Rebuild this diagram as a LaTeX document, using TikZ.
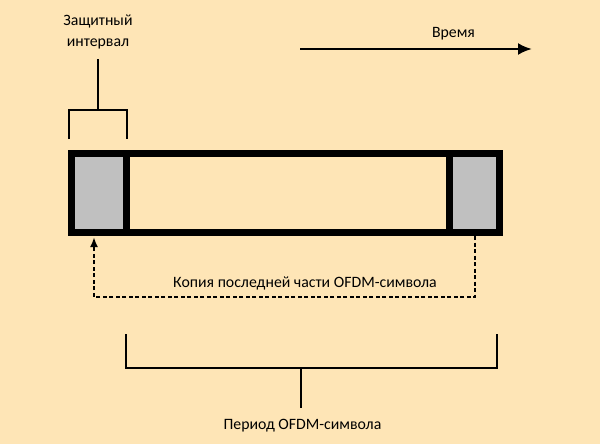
\documentclass[tikz,border=0pt]{standalone}
\usepackage{fontspec}
\setmainfont{Carlito}
\usetikzlibrary{arrows.meta,positioning}
\definecolor{paper}{RGB}{254,229,182}
\definecolor{guardgray}{RGB}{192,192,192}

\begin{document}
\begin{tikzpicture}[
		x=1pt, y=-1pt,
		>=Latex,
		font=\fontsize{15.8}{21}\selectfont,
		frame/.style={
			rectangle,
			draw=black,
			line width=7pt,
			minimum height=79pt,
			inner sep=0pt,
			fill=paper
		},
		guard/.style={
			frame,
			fill=guardgray
		},
		brace/.style={
			line width=2.2pt
		},
		copyline/.style={
			line width=2pt,
			dash pattern=on 4pt off 2.5pt
		},
		label/.style={
			inner sep=0pt,
			align=center
		}
		]
		% background
		\fill [paper] (0,0) rectangle (600,444);
		
		% We start by placing the symbol
		\node [frame, minimum width=428pt] (symbol) at (285.5,193) {};
		\node [guard, minimum width=54.5pt] (guard1) at (98.75,193) {};
		\node [guard, minimum width=50pt] (guard2) at (474.5,193) {};
		
		% guard interval bracket
		\node [label] (guardtext) at (98,32) {Защитный\\интервал};
		\coordinate (gl) at (69,139);
		\coordinate (gr) at (127,139);
		\coordinate (gmid) at (98,110);
		\coordinate (gtop) at (98,59);
		\draw [brace] (gl) |- (gmid) -| (gr);
		\draw [brace] (gmid) -- (gtop);
		
		% time axis
		\coordinate (t0) at (300,49);
		\coordinate (t1) at (532,49);
		\draw [-{Latex[length=14pt,width=12pt]}, line width=2.5pt] (t0) -- (t1);
		\node [label] (time) at (453.5,34) {Время};
		
		% copy of the symbol tail
		\coordinate (cbottom) at (94,297);
		\coordinate (ctip) at (94,237);
		\draw [copyline, -{Latex[length=10pt,width=8pt]}] (guard2.south) |- (cbottom) -- (ctip);
		\node [label] (copytext) at (305,283) {Копия последней части OFDM-символа};
		
		% symbol period bracket
		\coordinate (pl) at (126,334);
		\coordinate (pr) at (497,334);
		\coordinate (pmid) at (301,368);
		\coordinate (pstem) at (301,408);
		\draw [brace] (pl) |- (pmid) -| (pr);
		\draw [brace] (pmid) -- (pstem);
		\node [label] (period) at (302.5,426) {Период OFDM-символа};
		
\end{tikzpicture}
\end{document}
